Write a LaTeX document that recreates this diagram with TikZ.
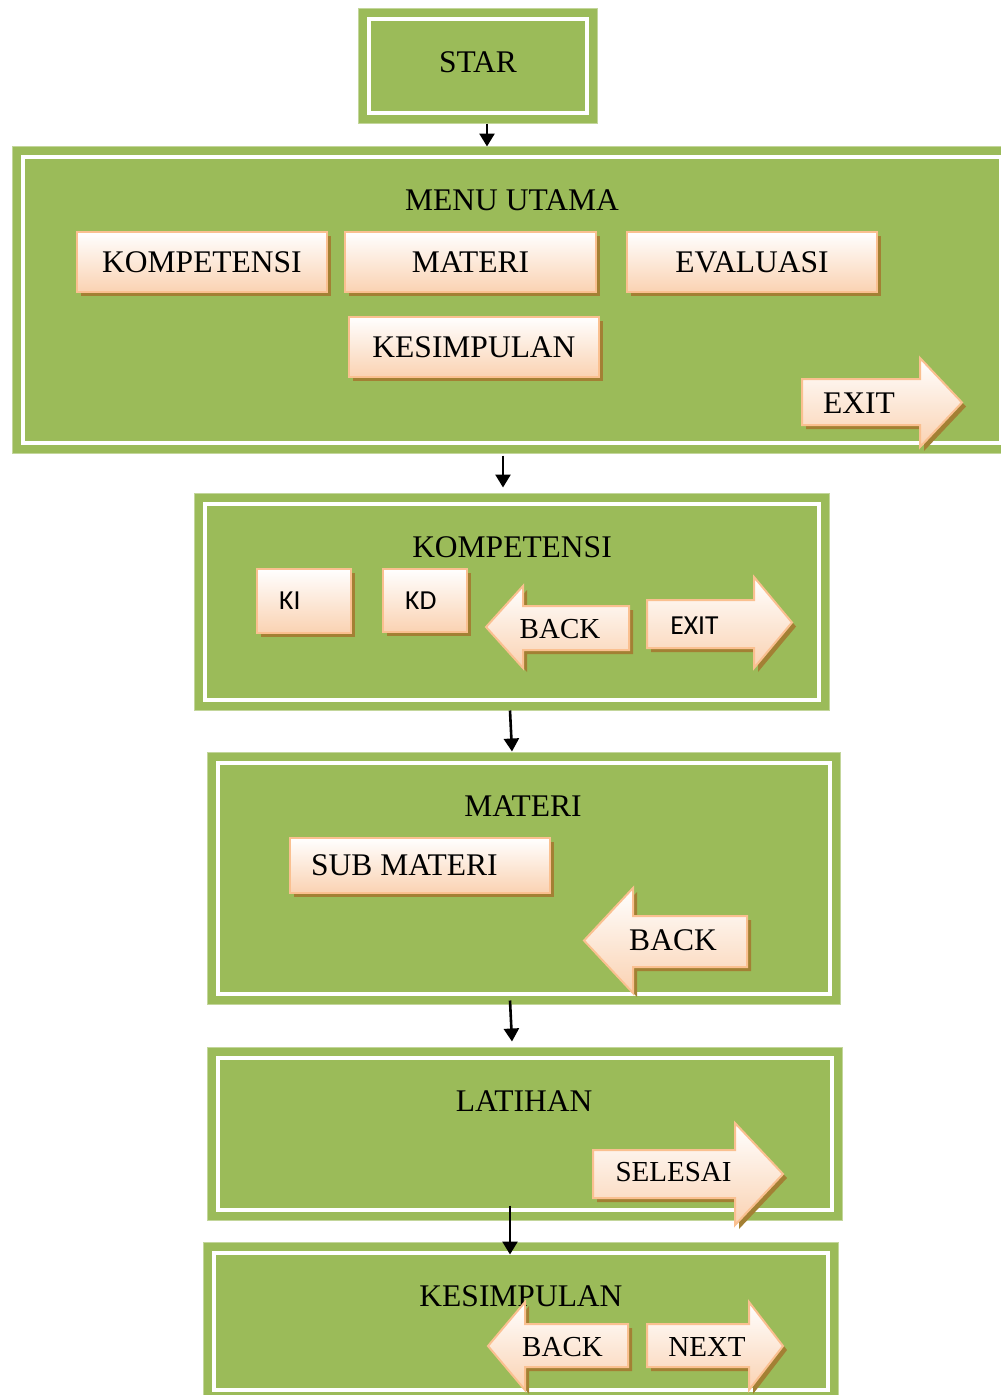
\documentclass[tikz,border=0pt]{standalone}
\usepackage{fontspec}
\setmainfont{Liberation Serif}
\newfontfamily\sansf{Carlito}
\usetikzlibrary{arrows.meta,shadows,calc}
\definecolor{pgreen}{HTML}{9BBB59}
\definecolor{pedge}{HTML}{C3D69B}
\definecolor{bborder}{HTML}{FAC090}
\definecolor{bpeach}{HTML}{FAD2B2}
\definecolor{bshadow}{RGB}{163,128,52}
\tikzset{
  panel/.style={fill=pgreen, draw=pedge, line width=1pt, inner sep=0pt},
  wline/.style={draw=white, line width=4pt},
  bigtxt/.style={inner sep=0pt, font=\fontsize{31.5}{36}\selectfont},
  midtxt/.style={inner sep=0pt, font=\fontsize{29}{34}\selectfont},
  sanstxt/.style={inner sep=0pt, font=\sansf\fontsize{27.5}{32}\selectfont},
  btn/.style={top color=white, bottom color=bpeach, draw=bborder, line width=2pt, inner sep=0pt,
    drop shadow={shadow xshift=4pt, shadow yshift=-4pt, fill=bshadow, opacity=1}},
  arrbtn/.style={top color=white, bottom color=bpeach, draw=bborder, line width=2pt, line join=miter},
  conn/.style={draw=black, line width=2.6pt, -{Triangle[width=15pt,length=13pt]}}
}
% right arrow: body left x, body top, body bottom, head base x, head top, head bottom, tip x
\newcommand\RArrow[7]{%
  \fill[bshadow, shift={(4,4)}] (#1,#2) -- (#4,#2) -- (#4,#5) -- (#7,{(#5+#6)/2}) -- (#4,#6) -- (#4,#3) -- (#1,#3) -- cycle;
  \draw[arrbtn] (#1,#2) -- (#4,#2) -- (#4,#5) -- (#7,{(#5+#6)/2}) -- (#4,#6) -- (#4,#3) -- (#1,#3) -- cycle;}
% left arrow: tip x, head base x, body right x, body top, body bottom, head top, head bottom
\newcommand\LArrow[7]{%
  \fill[bshadow, shift={(4,4)}] (#1,{(#6+#7)/2}) -- (#2,#6) -- (#2,#4) -- (#3,#4) -- (#3,#5) -- (#2,#5) -- (#2,#7) -- cycle;
  \draw[arrbtn] (#1,{(#6+#7)/2}) -- (#2,#6) -- (#2,#4) -- (#3,#4) -- (#3,#5) -- (#2,#5) -- (#2,#7) -- cycle;}
\begin{document}
\begin{tikzpicture}[x=1pt, y=-1pt]
\useasboundingbox (0,0) rectangle (1001,1395);
\clip (0,0) rectangle (1001,1395);
\fill[white] (0,0) rectangle (1001,1395);

% panels
\node[panel, minimum width=239pt, minimum height=115pt] (star) at (477.5,65.5) {};
\node[panel, minimum width=999pt, minimum height=307pt] (menu) at (511.5,299.5) {};
\node[panel, minimum width=635pt, minimum height=217pt] (komp) at (511.5,601.5) {};
\node[panel, minimum width=633pt, minimum height=252pt] (materi) at (523.5,878) {};
\node[panel, minimum width=635pt, minimum height=173pt] (latihan) at (524.5,1133.5) {};
\node[panel, minimum width=635pt, minimum height=158.5pt] (kesimp) at (520.5,1321.25) {};

\foreach \p in {star,menu,komp,materi,latihan,kesimp}{
  \draw[wline] ($(\p.north west)+(11,11)$) rectangle ($(\p.south east)+(-11,-11)$);
}

% titles
\node[bigtxt] (startxt) at (478,62) {STAR};
\node[bigtxt] (menutxt) at (512,200) {MENU UTAMA};
\node[bigtxt] (komptxt) at (512,547) {KOMPETENSI};
\node[bigtxt] (materitxt) at (523,806) {MATERI};
\node[bigtxt] (latihantxt) at (524,1101) {LATIHAN};
\node[bigtxt] (kesimptxt) at (521,1296) {KESIMPULAN};

% menu buttons
\node[btn, bigtxt, minimum width=250pt, minimum height=60pt] (bkomp) at (202,262) {KOMPETENSI};
\node[btn, bigtxt, minimum width=251pt, minimum height=60pt] (bmateri) at (470.5,262) {MATERI};
\node[btn, bigtxt, minimum width=250pt, minimum height=60pt] (beval) at (752,262) {EVALUASI};
\node[btn, bigtxt, minimum width=250pt, minimum height=60pt] (bkes) at (474,347) {KESIMPULAN};
\RArrow{802}{379}{425}{920}{358}{447}{962}
\node[bigtxt] (exit1) at (859,403) {EXIT};

% kompetensi panel
\node[btn, minimum width=94pt, minimum height=64pt] (ki) at (304,601) {};
\node[sanstxt, anchor=west] (kitxt) at ($(ki.west)+(23,0)$) {KI};
\node[btn, minimum width=84pt, minimum height=63pt] (kd) at (425,600.5) {};
\node[sanstxt, anchor=west] (kdtxt) at ($(kd.west)+(23,0)$) {KD};
\LArrow{486}{523}{629}{606}{650}{586}{668}
\node[midtxt] (back1) at (560,629) {BACK};
\RArrow{647}{600}{648}{754}{577}{668}{792}
\node[sanstxt] (exit2) at (694.5,626) {EXIT};

% materi panel
\node[btn, minimum width=260pt, minimum height=55pt] (sub) at (420,865.5) {};
\node[bigtxt, anchor=west] (subtxt) at ($(sub.west)+(22,0)$) {SUB MATERI};
\LArrow{584}{633}{747}{916}{967}{888}{993}
\node[bigtxt] (back2) at (673,940) {BACK};

% latihan panel
\RArrow{593}{1150}{1198}{735}{1123}{1225}{783}
\node[midtxt] (selesai) at (673.5,1172) {SELESAI};

% kesimpulan panel
\LArrow{488}{525}{628}{1324}{1367}{1302}{1390}
\node[midtxt] (back3) at (562.5,1347) {BACK};
\RArrow{647}{1324}{1367}{749}{1302}{1390}{783}
\node[midtxt] (next) at (707,1347) {NEXT};

% connectors
\draw[conn] ($(star.south)+(9.5,0)$) -- ($(star.south -| menu.north)+(-24.5,23)$);
\draw[conn] ($(menu.south)+(-8.5,2)$) -- ($(komp.north)+(-8.5,-5)$);
\draw[conn] ($(komp.south)+(-1.5,0)$) -- ($(materi.north)+(-11.5,0)$);
\draw[conn] ($(materi.south)+(-13.5,-4)$) -- ($(latihan.north)+(-12.5,-5)$);
\draw[conn] ($(latihan.south)+(-14.5,-15)$) -- ($(kesimp.north)+(-10.5,13)$);
\end{tikzpicture}
\end{document}
